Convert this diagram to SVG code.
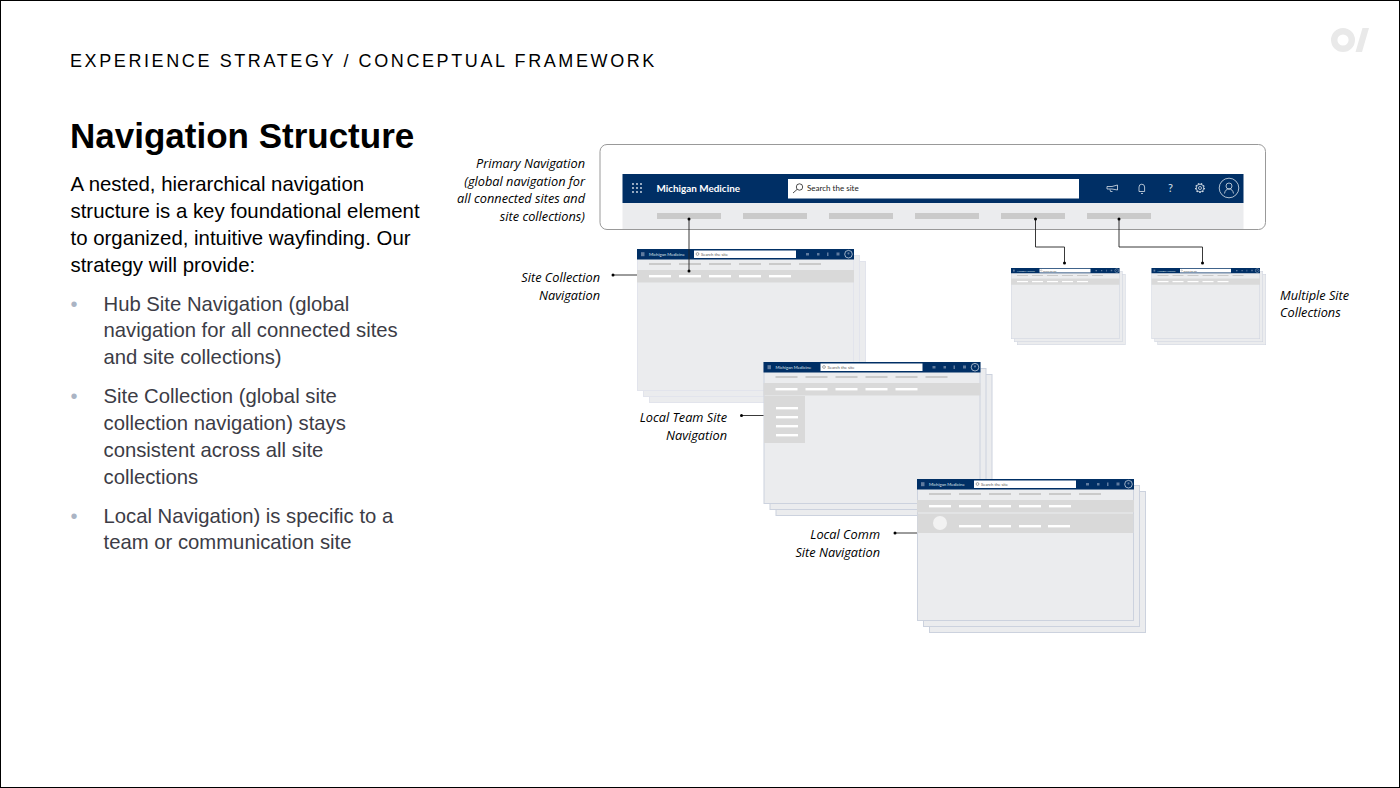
<svg xmlns="http://www.w3.org/2000/svg" xmlns:xlink="http://www.w3.org/1999/xlink" width="1400" height="788" viewBox="0 0 1400 788">
<style>
.sans{font-family:"Liberation Sans",Arial,sans-serif}
.lato{font-family:Lato,"Liberation Sans",sans-serif}
.body{font-size:20.4px;fill:#000}
.li{font-size:20.3px;fill:#3c3c46}
.bul{font-size:20px;fill:#aab4c4}
.note{font-family:"Open Sans","Liberation Sans",sans-serif;font-style:italic;font-size:12.75px;fill:#000;text-anchor:end}
.sheet{fill:#ebecee;stroke:var(--edge,#ccd2de);stroke-width:1}
.navy{fill:#002f65}
.sub{fill:#cacaca}
.band{fill:#d9d9d9}
.wh{fill:#fff}
.conn{fill:none;stroke:#222;stroke-width:.9}
.ic{fill:none;stroke:#dbe2ea;stroke-width:.8}
</style>
<defs>
<g id="win">
<rect class="sheet" x="12.500" y="12.500" width="216" height="141"/>
<rect class="sheet" x="6.500" y="6.500" width="216" height="141"/>
<rect class="sheet" x="0.500" y="0.500" width="216" height="141"/>
<rect class="navy" x="0" y="0" width="217" height="10.500"/>
<rect x="4" y="3.200" width="3.500" height="4" fill="#5f7b9e"/>
<text class="lato" x="12" y="7.200" font-size="4.300" fill="#dfe5ec">Michigan Medicine</text>
<rect class="wh" x="57" y="1.500" width="102" height="7.500"/>
<text class="lato" x="64" y="7" font-size="4.200" fill="#555">Search the site</text>
<circle cx="60.500" cy="5" r="1.400" fill="none" stroke="#555" stroke-width=".5"/>
<g fill="#5f7b9e"><rect x="169" y="4" width="3" height="2.500"/><rect x="180" y="4" width="2.500" height="2.500"/><rect x="190" y="3.500" width="1.500" height="3.500"/><rect x="199.500" y="3.500" width="3" height="3"/></g>
<circle cx="211.500" cy="5.200" r="3.800" fill="none" stroke="#dfe5ec" stroke-width=".7"/>
<circle cx="211.500" cy="4.400" r="1.100" fill="#5f7b9e"/>
<g class="sub"><rect x="12" y="14" width="22" height="2"/><rect x="42" y="14" width="22" height="2"/><rect x="72" y="14" width="22" height="2"/><rect x="102" y="14" width="22" height="2"/><rect x="132" y="14" width="22" height="2"/><rect x="162" y="14" width="22" height="2"/></g>
<rect class="band" x="0" y="21" width="217" height="12.500"/>
<g class="wh"><rect x="12" y="26" width="22" height="2.400"/><rect x="42" y="26" width="22" height="2.400"/><rect x="72" y="26" width="22" height="2.400"/><rect x="102" y="26" width="22" height="2.400"/><rect x="132" y="26" width="22" height="2.400"/></g>
</g>
</defs>

<rect x="0.500" y="0.500" width="1399" height="787" fill="#fff" stroke="#000"/>

<g id="logo" fill="#e9e9e9">
<circle cx="1343" cy="40" r="8.800" fill="none" stroke="#e9e9e9" stroke-width="6.400"/>
<polygon points="1362.500,28 1369,28 1362,52 1355.500,52"/>
</g>

<text id="eyebrow" class="sans" x="70" y="67" font-size="18" letter-spacing="2.600" fill="#000">EXPERIENCE STRATEGY / CONCEPTUAL FRAMEWORK</text>
<text id="heading" class="sans" x="70" y="148" font-size="35" font-weight="700" fill="#000">Navigation Structure</text>

<g id="intro" class="sans body">
<text x="70.500" y="191">A nested, hierarchical navigation</text>
<text x="70.500" y="218">structure is a key foundational element</text>
<text x="70.500" y="245">to organized, intuitive wayfinding. Our</text>
<text x="70.500" y="272">strategy will provide:</text>
</g>
<g id="bullets" class="sans li">
<text class="bul" x="70.500" y="311">•</text>
<text x="103.500" y="311">Hub Site Navigation (global</text>
<text x="103.500" y="337">navigation for all connected sites</text>
<text x="103.500" y="364">and site collections)</text>
<text class="bul" x="70.500" y="403">•</text>
<text x="103.500" y="403">Site Collection (global site</text>
<text x="103.500" y="430">collection navigation) stays</text>
<text x="103.500" y="457">consistent across all site</text>
<text x="103.500" y="484">collections</text>
<text class="bul" x="70.500" y="523">•</text>
<text x="103.500" y="523">Local Navigation) is specific to a</text>
<text x="103.500" y="549">team or communication site</text>
</g>

<g id="primary-nav">
<rect x="600" y="144.500" width="665.500" height="85" rx="7" fill="#fff" stroke="#999" stroke-width="1"/>
<rect x="622.500" y="203" width="621" height="26" fill="#ebecee"/>
<rect class="navy" x="622.500" y="174" width="621" height="29"/>
<g fill="#dfe6ee"><circle cx="633" cy="184" r=".9"/><circle cx="637" cy="184" r=".9"/><circle cx="641" cy="184" r=".9"/><circle cx="633" cy="188" r=".9"/><circle cx="637" cy="188" r=".9"/><circle cx="641" cy="188" r=".9"/><circle cx="633" cy="192" r=".9"/><circle cx="637" cy="192" r=".9"/><circle cx="641" cy="192" r=".9"/></g>
<text class="lato" x="656.500" y="192" font-size="9.900" font-weight="700" fill="#fff">Michigan Medicine</text>
<rect class="wh" x="788" y="179" width="291" height="19.500"/>
<circle cx="799.500" cy="187" r="3.200" fill="none" stroke="#222" stroke-width=".8"/>
<line x1="797" y1="189.500" x2="793" y2="193" stroke="#222" stroke-width=".8"/>
<text class="lato" x="807" y="191" font-size="8" fill="#222">Search the site</text>
<path class="ic" d="M1107 186.500h5l5.500-1.500v5l-5.500-1h-5zM1110 189.500l.5 2h2"/>
<path class="ic" d="M1139 191.500v-4.500a2.800 2.800 0 0 1 5.600 0v4.500zM1141 193.500h2"/>
<text class="lato" x="1170.500" y="192" font-size="11" fill="#dbe2ea" text-anchor="middle">?</text>
<circle class="ic" cx="1200" cy="188" r="3.800"/><circle cx="1200" cy="188" r="4.400" fill="none" stroke="#dbe2ea" stroke-width="1.100" stroke-dasharray="1.500 1.500"/><circle class="ic" cx="1200" cy="188" r="1.500"/>
<circle class="ic" cx="1229" cy="188" r="9.800"/>
<circle class="ic" cx="1229" cy="186" r="3"/>
<path class="ic" d="M1224.500 193.500c.5-3 2-4.500 4.500-4.500s4 1.500 4.500 4.500"/>
<g class="sub"><rect x="657" y="213" width="64" height="6"/><rect x="743" y="213" width="64" height="6"/><rect x="829" y="213" width="64" height="6"/><rect x="915" y="213" width="64" height="6"/><rect x="1001" y="213" width="64" height="6"/><rect x="1087" y="213" width="64" height="6"/></g>
</g>

<g id="site-collection" style="--edge:#e2e4ec"><use xlink:href="#win" href="#win" transform="translate(637 249)"/></g>
<g id="multi-site-1"><use xlink:href="#win" href="#win" transform="translate(1011 268) scale(.5)"/></g>
<g id="multi-site-2"><use xlink:href="#win" href="#win" transform="translate(1151.500 268) scale(.5)"/></g>
<g id="local-team">
<use xlink:href="#win" href="#win" transform="translate(763.500 362)"/>
<rect class="band" x="764" y="396" width="41" height="47"/>
<g class="wh"><rect x="776" y="407" width="22" height="2.400"/><rect x="776" y="416" width="22" height="2.400"/><rect x="776" y="425" width="22" height="2.400"/><rect x="776" y="434" width="22" height="2.400"/></g>
</g>
<g id="local-comm">
<use xlink:href="#win" href="#win" transform="translate(917 479)"/>
<rect class="band" x="917.500" y="513.500" width="216" height="19.500"/>
<circle cx="940" cy="523" r="7" fill="#f2f2f2"/>
<g class="wh"><rect x="959" y="525" width="22" height="2.400"/><rect x="989" y="525" width="22" height="2.400"/><rect x="1019" y="525" width="22" height="2.400"/><rect x="1048" y="525" width="22" height="2.400"/></g>
</g>

<g id="connectors">
<path class="conn" d="M689 219V271"/>
<path class="conn" d="M1035.500 219V247H1064.500V263"/>
<path class="conn" d="M1119 219V247H1202.500V263"/>
<path class="conn" d="M613 275H637"/>
<path class="conn" d="M741.500 415.500H763.500"/>
<path class="conn" d="M895 533H917"/>
<g fill="#000">
<circle cx="689" cy="219" r="1.500"/><circle cx="689" cy="271" r="1.500"/>
<circle cx="1035.500" cy="219" r="1.500"/><circle cx="1064.500" cy="263" r="1.500"/>
<circle cx="1119" cy="219" r="1.500"/><circle cx="1202.500" cy="263" r="1.500"/>
<circle cx="613" cy="275" r="1.500"/><circle cx="741.500" cy="415.500" r="1.500"/><circle cx="895" cy="533" r="1.500"/>
</g>
</g>

<g id="notes">
<text class="note" x="585" y="168">Primary Navigation</text>
<text class="note" x="585" y="186">(global navigation for</text>
<text class="note" x="585" y="203">all connected sites and</text>
<text class="note" x="585" y="221">site collections)</text>
<text class="note" x="600" y="282">Site Collection</text>
<text class="note" x="600" y="300">Navigation</text>
<text class="note" x="727" y="422">Local Team Site</text>
<text class="note" x="727" y="440">Navigation</text>
<text class="note" x="880" y="539">Local Comm</text>
<text class="note" x="880" y="557">Site Navigation</text>
<text class="note" style="text-anchor:start" x="1280" y="300">Multiple Site</text>
<text class="note" style="text-anchor:start" x="1280" y="317">Collections</text>
</g>
</svg>
